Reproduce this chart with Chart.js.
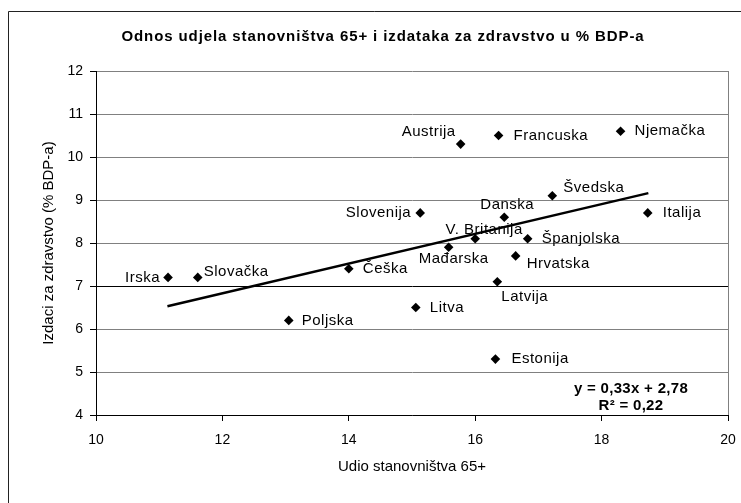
<!DOCTYPE html>
<html>
<head>
<meta charset="utf-8">
<script src="https://cdn.jsdelivr.net/npm/chart.js@4/dist/chart.umd.min.js"></script>
<style>
  body { margin: 0; background: #fff; }
  canvas { display: block; }
</style>
</head>
<body>
<canvas id="myChart" width="741" height="503"></canvas>
<script>
var countries = ['Irska', 'Slovačka', 'Poljska', 'Češka', 'Litva', 'Slovenija', 'Austrija', 'Mađarska', 'V. Britanija',
	'Danska', 'Francuska', 'Latvija', 'Estonija', 'Hrvatska', 'Španjolska', 'Švedska', 'Njemačka', 'Italija'];
var share65 = [11.14, 11.61, 13.05, 14.0, 15.06, 15.13, 15.77, 15.58, 16.0,
	16.46, 16.37, 16.35, 16.32, 16.64, 16.83, 17.22, 18.30, 18.73];
var healthSpend = [7.2, 7.2, 6.2, 7.4, 6.5, 8.7, 10.3, 7.9, 8.1,
	8.6, 10.5, 7.1, 5.3, 7.7, 8.1, 9.1, 10.6, 8.7];

// trend line ends
var trendX = [11.13, 18.74];
var trendY = [6.53, 9.16];
var trendEquation = 'y = 0,33x + 2,78';
var trendR2 = 'R² = 0,22';

var xTicks = [10, 12, 14, 16, 18, 20];
var yTicks = [4, 5, 6, 7, 8, 9, 10, 11, 12];

var chartTitle = 'Odnos udjela stanovništva 65+ i izdataka za zdravstvo u % BDP-a';
var xTitle = 'Udio stanovništva 65+';
var yTitle = 'Izdaci za zdravstvo (% BDP-a)';

var FONT = '"Liberation Sans", Arial, sans-serif';

// where each country name sits next to its marker: [dx, dy, align]
var labelPlace = [
	[-8, 0, 'right'], [6, -6, 'left'], [13, 0, 'left'], [14, 0, 'left'], [14, 0, 'left'],
	[-9, 0, 'right'], [-5, -12, 'right'], [5, 12, 'center'], [9, -9, 'center'],
	[3, -12, 'center'], [15, 0, 'left'], [4, 15, 'left'], [16, 0, 'left'], [11, 8, 'left'],
	[14, 0, 'left'], [11, -8, 'left'], [14, 0, 'left'], [15, 0, 'left']
];

function spaced(c, px){
	if ('letterSpacing' in c) c.letterSpacing = px;
}

var frameAndText = {
	id: 'frameAndText',
	beforeDraw: function(chart){
		var c = chart.ctx;
		c.save();
		c.strokeStyle = '#222';
		c.lineWidth = 1;
		c.beginPath();
		c.moveTo(8.5, chart.height);
		c.lineTo(8.5, 11.5);
		c.lineTo(chart.width, 11.5);
		c.stroke();
		c.fillStyle = '#000';
		c.font = 'bold 15px ' + FONT;
		spaced(c, '0.9px');
		c.textAlign = 'center';
		c.textBaseline = 'middle';
		c.fillText(chartTitle, 383, 37);
		spaced(c, '0px');
		c.restore();
	},
	afterDatasetsDraw: function(chart){
		var c = chart.ctx,
			meta = chart.getDatasetMeta(0),
			area = chart.chartArea;
		c.save();
		c.fillStyle = '#000';
		c.font = '15px ' + FONT;
		spaced(c, '0.5px');
		c.textBaseline = 'middle';
		meta.data.forEach(function(pt, i){
			var p = labelPlace[i];
			c.textAlign = p[2];
			c.fillText(countries[i], pt.x + p[0], pt.y + p[1]);
		});
		c.font = 'bold 15px ' + FONT;
		spaced(c, '0.3px');
		c.textAlign = 'center';
		c.fillText(trendEquation, area.right - 97, 389);
		c.fillText(trendR2, area.right - 97, 406);
		spaced(c, '0px');
		c.restore();
	}
};

var ctx = document.getElementById('myChart');

var myChart = new Chart(ctx, {
	type: 'scatter',
	data: {
		datasets: [{
			label: 'Zemlje',
			data: share65.map(function(x, i){ return {x: x, y: healthSpend[i]}; }),
			pointStyle: 'rectRot',
			pointRadius: 4.8,
			pointHoverRadius: 4.8,
			backgroundColor: '#000',
			borderColor: '#000',
			borderWidth: 0
		}, {
			type: 'line',
			label: 'Trend',
			data: trendX.map(function(x, i){ return {x: x, y: trendY[i]}; }),
			borderColor: '#000',
			borderWidth: 2.5,
			pointRadius: 0,
			fill: false
		}]
	},
	options: {
		responsive: false,
		animation: false,
		layout: { padding: { left: 8, top: 71, right: 13, bottom: 0 } },
		plugins: {
			legend: { display: false },
			tooltip: { enabled: false }
		},
		scales: {
			x: {
				type: 'linear',
				min: 10,
				max: 20,
				afterFit: function(scale){
					scale.height = 88;
					scale.paddingLeft = 0;
					scale.paddingRight = 0;
				},
				afterBuildTicks: function(scale){ scale.ticks = xTicks.map(function(v){ return {value: v}; }); },
				grid: {
					drawOnChartArea: true,
					color: function(c){ return c.tick && c.tick.value === 20 ? '#808080' : 'rgba(0,0,0,0)'; },
					tickColor: '#000',
					tickLength: 6
				},
				border: { color: '#000', width: 1 },
				ticks: { color: '#000', padding: 11, font: { family: FONT, size: 14 } },
				title: {
					display: true,
					text: xTitle,
					color: '#000',
					font: { family: FONT, size: 15 },
					padding: { top: 0, bottom: 27 }
				}
			},
			y: {
				min: 4,
				max: 12,
				afterFit: function(scale){ scale.width = 88; },
				afterBuildTicks: function(scale){ scale.ticks = yTicks.map(function(v){ return {value: v}; }); },
				grid: {
					color: function(c){ return c.tick && c.tick.value === 7 ? '#000' : '#808080'; },
					tickColor: '#000',
					tickLength: 6
				},
				border: { color: '#000', width: 1 },
				ticks: { color: '#000', padding: 7, font: { family: FONT, size: 14 } },
				title: {
					display: true,
					text: yTitle,
					color: '#000',
					font: { family: FONT, size: 15 },
					padding: { top: 32, bottom: 0 }
				}
			}
		}
	},
	plugins: [frameAndText]
});
</script>
</body>
</html>
